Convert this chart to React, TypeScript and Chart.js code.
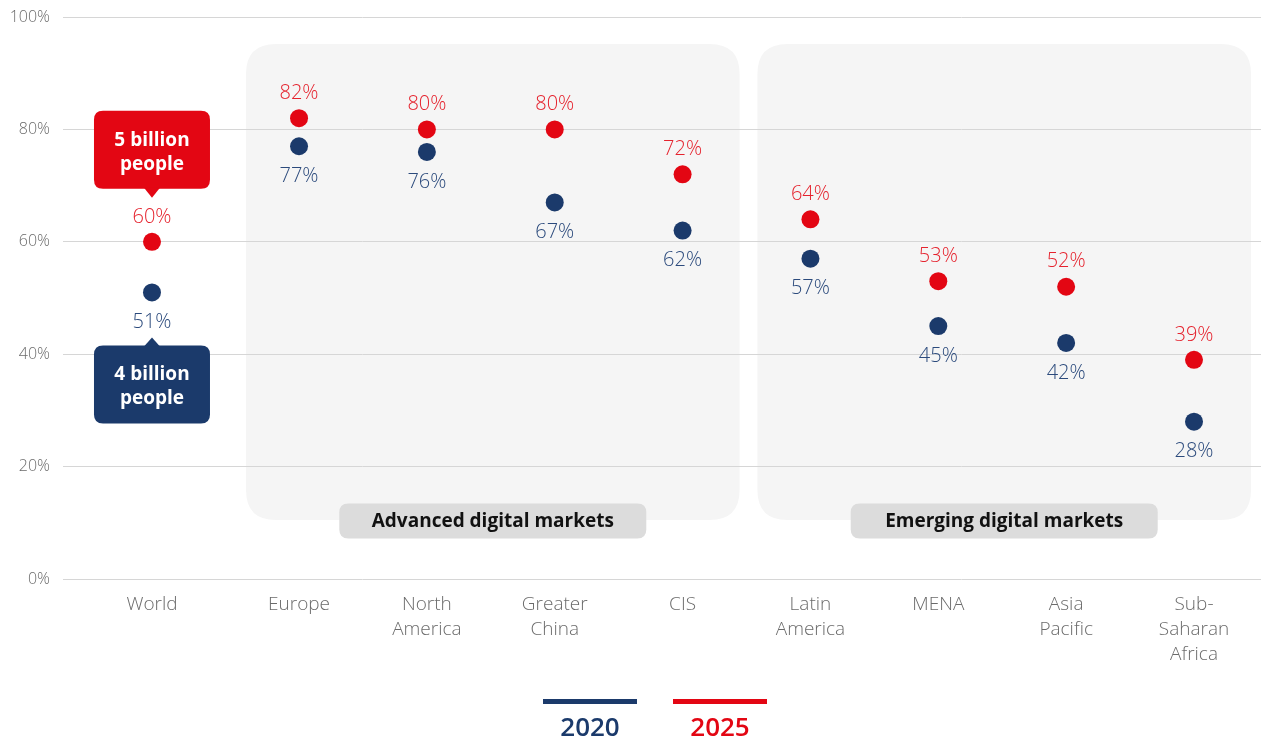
import React, { useEffect, useRef } from "react";
import { Chart, registerables } from "chart.js";

Chart.register(...registerables);

// Regions, in display order
const categories: string[][] = [
  ["World"],
  ["Europe"],
  ["North", "America"],
  ["Greater", "China"],
  ["CIS"],
  ["Latin", "America"],
  ["MENA"],
  ["Asia", "Pacific"],
  ["Sub-", "Saharan", "Africa"],
];

// Share of population (%) per region
const values2020: number[] = [51, 77, 76, 67, 62, 57, 45, 42, 28];
const values2025: number[] = [60, 82, 80, 80, 72, 64, 53, 52, 39];

const yTicks: number[] = [0, 20, 40, 60, 80, 100];

const seriesNames: string[] = ["2020", "2025"];

// Market groupings (inclusive category index ranges)
const groupLabels: string[] = ["Advanced digital markets", "Emerging digital markets"];
const groupStart: number[] = [1, 5];
const groupEnd: number[] = [4, 8];

// Callouts on the World column
const worldCallout2025: string[] = ["5 billion", "people"];
const worldCallout2020: string[] = ["4 billion", "people"];

const NAVY = "#1b3a6b";
const RED = "#e30613";
const FONT = "'Open Sans', Lato, sans-serif";

// World sits a little apart from the regional columns
const WORLD_GAP = 0.15;
const xPos = (i: number) => (i === 0 ? 0 : i + WORLD_GAP);

function roundRect(ctx: CanvasRenderingContext2D, x: number, y: number, w: number, h: number, r: number) {
  ctx.beginPath();
  ctx.moveTo(x + r, y);
  ctx.lineTo(x + w - r, y);
  ctx.quadraticCurveTo(x + w, y, x + w, y + r);
  ctx.lineTo(x + w, y + h - r);
  ctx.quadraticCurveTo(x + w, y + h, x + w - r, y + h);
  ctx.lineTo(x + r, y + h);
  ctx.quadraticCurveTo(x, y + h, x, y + h - r);
  ctx.lineTo(x, y + r);
  ctx.quadraticCurveTo(x, y, x + r, y);
  ctx.closePath();
}

const groupPanels = {
  id: "groupPanels",
  beforeDraw(chart: any) {
    const { ctx, scales, chartArea } = chart;
    const xs = scales.x;
    const ys = scales.y;
    ctx.save();
    groupLabels.forEach((label, g) => {
      const left = xs.getPixelForValue(xPos(groupStart[g])) - 53;
      const right = xs.getPixelForValue(xPos(groupEnd[g])) + 57;
      const top = ys.getPixelForValue(100) + 27;
      const bottom = chartArea.bottom - 59;
      ctx.fillStyle = "#f5f5f5";
      roundRect(ctx, left, top, right - left, bottom - top, 30);
      ctx.fill();
    });
    ctx.restore();
  },
  afterDatasetsDraw(chart: any) {
    const { ctx, scales, chartArea } = chart;
    const xs = scales.x;
    const ys = scales.y;
    ctx.save();

    // Group name pills
    groupLabels.forEach((label, g) => {
      const left = xs.getPixelForValue(xPos(groupStart[g])) - 53;
      const right = xs.getPixelForValue(xPos(groupEnd[g])) + 57;
      const cx = (left + right) / 2;
      const cy = chartArea.bottom - 58;
      const w = 307;
      const h = 35;
      ctx.fillStyle = "#dcdcdc";
      roundRect(ctx, cx - w / 2, cy - h / 2, w, h, 9);
      ctx.fill();
      ctx.fillStyle = "#111111";
      ctx.font = `bold 19px ${FONT}`;
      ctx.textAlign = "center";
      ctx.textBaseline = "middle";
      ctx.fillText(label, cx, cy + 1);
    });

    // Value labels
    ctx.font = `300 20px ${FONT}`;
    ctx.textAlign = "center";
    ctx.textBaseline = "middle";
    values2025.forEach((v, i) => {
      ctx.fillStyle = "#e5222d";
      ctx.fillText(`${v}%`, xs.getPixelForValue(xPos(i)), ys.getPixelForValue(v) - 25);
    });
    values2020.forEach((v, i) => {
      ctx.fillStyle = "#2b4a7c";
      ctx.fillText(`${v}%`, xs.getPixelForValue(xPos(i)), ys.getPixelForValue(v) + 30);
    });

    // World callouts
    const wx = xs.getPixelForValue(xPos(0));
    const bw = 116;
    const bh = 78;
    // 2025 callout above its label
    {
      const tip = ys.getPixelForValue(values2025[0]) - 44;
      const bottom = tip - 9;
      ctx.fillStyle = RED;
      roundRect(ctx, wx - bw / 2, bottom - bh, bw, bh, 9);
      ctx.fill();
      ctx.beginPath();
      ctx.moveTo(wx - 8, bottom - 1);
      ctx.lineTo(wx + 8, bottom - 1);
      ctx.lineTo(wx, tip);
      ctx.closePath();
      ctx.fill();
      ctx.fillStyle = "#ffffff";
      ctx.font = `bold 19px ${FONT}`;
      ctx.fillText(worldCallout2025[0], wx, bottom - bh + 30);
      ctx.fillText(worldCallout2025[1], wx, bottom - bh + 54);
    }
    // 2020 callout below its label
    {
      const tip = ys.getPixelForValue(values2020[0]) + 45;
      const top = tip + 8;
      ctx.fillStyle = NAVY;
      roundRect(ctx, wx - bw / 2, top, bw, bh, 9);
      ctx.fill();
      ctx.beginPath();
      ctx.moveTo(wx - 8, top + 1);
      ctx.lineTo(wx + 8, top + 1);
      ctx.lineTo(wx, tip);
      ctx.closePath();
      ctx.fill();
      ctx.fillStyle = "#ffffff";
      ctx.font = `bold 19px ${FONT}`;
      ctx.fillText(worldCallout2020[0], wx, top + 29);
      ctx.fillText(worldCallout2020[1], wx, top + 53);
    }
    ctx.restore();
  },
  afterDraw(chart: any) {
    // Legend: colour bar with the year beneath
    const { ctx } = chart;
    const colors = [NAVY, RED];
    const centers = [590, 720];
    ctx.save();
    seriesNames.forEach((name, k) => {
      ctx.fillStyle = colors[k];
      ctx.fillRect(centers[k] - 47, 699, 94, 5);
      ctx.font = `600 26px ${FONT}`;
      ctx.textAlign = "center";
      ctx.textBaseline = "middle";
      ctx.fillText(name, centers[k], 729);
    });
    ctx.restore();
  },
};

export default function App() {
  const canvasRef = useRef<HTMLCanvasElement | null>(null);

  useEffect(() => {
    if (!canvasRef.current) return;
    const chart = new Chart(canvasRef.current, {
      type: "scatter",
      data: {
        datasets: [
          {
            label: seriesNames[0],
            data: values2020.map((v, i) => ({ x: xPos(i), y: v })),
            backgroundColor: NAVY,
            borderColor: NAVY,
            pointRadius: 9,
            pointBorderWidth: 0,
          },
          {
            label: seriesNames[1],
            data: values2025.map((v, i) => ({ x: xPos(i), y: v })),
            backgroundColor: RED,
            borderColor: RED,
            pointRadius: 9,
            pointBorderWidth: 0,
          },
        ],
      },
      options: {
        responsive: false,
        animation: false,
        layout: { autoPadding: false, padding: { top: 17, right: 0, left: 0, bottom: 0 } },
        plugins: {
          legend: { display: false },
          tooltip: { enabled: false },
        },
        scales: {
          x: {
            type: "linear",
            min: -0.696,
            max: 8.674,
            grid: { display: false, drawTicks: false },
            border: { display: false },
            afterBuildTicks: (axis: any) => {
              axis.ticks = categories.map((_, i) => ({ value: xPos(i) }));
            },
            afterFit: (axis: any) => {
              axis.height = 160;
              axis.paddingLeft = 0;
              axis.paddingRight = 0;
            },
            ticks: {
              autoSkip: false,
              maxRotation: 0,
              padding: 13,
              color: "#6b6b6b",
              font: { family: FONT, size: 19, weight: "300", lineHeight: 1.32 },
              callback: (_v: any, idx: number) => categories[idx],
            },
          },
          y: {
            min: 0,
            max: 100,
            afterBuildTicks: (axis: any) => {
              axis.ticks = yTicks.map((v) => ({ value: v }));
            },
            afterFit: (axis: any) => {
              axis.width = 63;
              axis.paddingTop = 0;
              axis.paddingBottom = 0;
              axis.paddingLeft = 0;
              axis.paddingRight = 0;
            },
            grid: { color: "#d6d6d6", lineWidth: 1, drawTicks: false },
            border: { display: false },
            ticks: {
              padding: 13,
              color: "#6b6b6b",
              font: { family: FONT, size: 16, weight: "300" },
              callback: (v: any) => `${v}%`,
            },
          },
        },
      },
      plugins: [groupPanels],
    });
    return () => chart.destroy();
  }, []);

  return (
    <div
      style={{
        position: "fixed",
        left: 0,
        top: 0,
        width: 1261,
        height: 739,
        overflow: "hidden",
        background: "#ffffff",
      }}
    >
      <canvas ref={canvasRef} width={1261} height={739} style={{ display: "block" }} />
    </div>
  );
}
